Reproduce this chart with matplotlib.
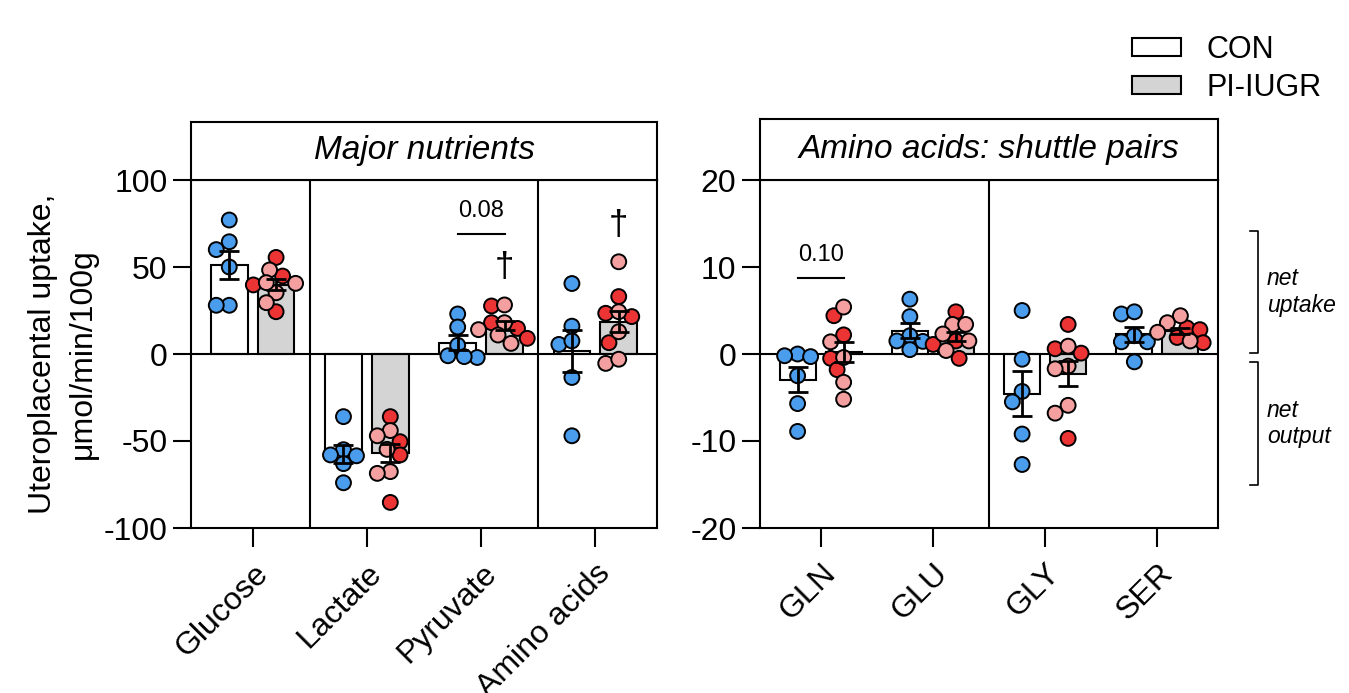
import numpy as np
import matplotlib
matplotlib.use('Agg')
import matplotlib.pyplot as plt
from matplotlib.patches import Patch
from matplotlib import transforms

plt.rcParams['font.family'] = ['Liberation Sans', 'DejaVu Sans']
plt.rcParams['axes.unicode_minus'] = False

BLUE = '#4a9cec'
RED = '#ec3434'
PINK = '#f5a0a0'
GREY = '#d4d4d4'

# ---- data ----
major_labels = ['Glucose', 'Lactate', 'Pyruvate', 'Amino acids']
major_con = [
    [77, 64.5, 60, 50, 28, 28],
    [-36, -55, -58, -58.5, -63, -74],
    [23, 15.5, 5, -2, -1.5, -1],
    [40.5, 16, 5.5, 7.5, -13.5, -47],
]
major_pi_red = [
    [55.5, 44.8, 39.7, 24.3],
    [-36, -50.4, -58, -85.3],
    [27.6, 18, 14.7, 9],
    [33, 23.4, 21.5, 6.5],
]
major_pi_pink = [
    [48.3, 40.6, 35.2, 29.5, 41],
    [-44, -47, -54.8, -67.6, -68.6],
    [28.2, 18, 10.9, 6.1, 14],
    [53, 24.3, 12.8, -5.4, -3],
]

shuttle_labels = ['GLN', 'GLU', 'GLY', 'SER']
shuttle_con = [
    [0, -0.3, -0.2, -2.5, -5.7, -8.9],
    [6.3, 4.3, 2.1, 1.5, 1.45, 0.5],
    [5.0, -0.6, -4.3, -5.5, -9.2, -12.7],
    [4.6, 4.85, 2.1, 1.4, 1.4, -0.9],
]
shuttle_pi_red = [
    [4.4, 2.2, -0.5, -1.8],
    [4.85, 1.5, 1.1, -0.5],
    [3.4, 0.1, 0.6, -9.7],
    [3.0, 2.8, 1.9, 1.3],
]
shuttle_pi_pink = [
    [5.4, 1.4, -0.4, -3.25, -5.2],
    [3.4, 3.4, 2.3, 1.5, 0.4],
    [0.9, -1.4, -1.7, -5.9, -6.8],
    [4.4, 3.6, 2.5, 1.5],
]

OFF = 0.205
W = 0.32


def swarm(ax, vals, center, d=13.0):
    bbox = ax.get_window_extent()
    x0, x1 = ax.get_xlim()
    y0, y1 = ax.get_ylim()
    sx = bbox.width / (x1 - x0)
    sy = bbox.height / (y1 - y0)
    steps = [0]
    for k in range(1, 20):
        steps += [-k * d * 0.25, k * d * 0.25]
    placed = []
    xs = np.zeros(len(vals))
    for i in np.argsort(-np.asarray(vals)):
        y = vals[i] * sy
        for off in steps:
            if all((off - px) ** 2 + (y - py) ** 2 >= d * d for px, py in placed):
                break
        placed.append((off, y))
        xs[i] = center + off / sx
    return xs


def draw_panel(ax, tax, title, labels, con, pi_red, pi_pink, ylim, ticks, dividers):
    ax.set_xlim(-0.54, 3.54)
    ax.set_ylim(*ylim)
    for i in range(len(labels)):
        c = np.array(con[i], dtype=float)
        p = np.array(pi_red[i] + pi_pink[i], dtype=float)
        pcol = [RED] * len(pi_red[i]) + [PINK] * len(pi_pink[i])
        for vals, off, face, cols in [(c, -OFF, 'white', [BLUE] * len(c)),
                                      (p, OFF, GREY, pcol)]:
            m = vals.mean()
            se = vals.std(ddof=1) / np.sqrt(len(vals))
            ax.bar(i + off, m, width=W, color=face, edgecolor='black',
                   linewidth=1.5, zorder=1)
            xs = swarm(ax, vals, i + off)
            ax.scatter(xs, vals, s=115, c=cols, edgecolors='black',
                       linewidths=1.4, zorder=3)
            ax.errorbar(i + off, m, yerr=se, fmt='none', ecolor='black',
                        elinewidth=2, capsize=7, capthick=2, zorder=4)
    ax.axhline(0, color='black', lw=1.5, zorder=2)
    for dv in dividers:
        ax.axvline(dv, color='black', lw=1.5, zorder=2)
    ax.set_xticks(range(len(labels)))
    ax.set_xticklabels(labels, rotation=45, ha='right', rotation_mode='anchor',
                       fontsize=23)
    ax.set_yticks(ticks)
    ax.tick_params(axis='x', length=14, width=1.5, pad=8)
    ax.tick_params(axis='y', length=13, width=1.5, labelsize=23, pad=4)
    for s in ax.spines.values():
        s.set_linewidth(1.5)

    tax.set_xticks([])
    tax.set_yticks([])
    for s in tax.spines.values():
        s.set_linewidth(1.5)
    tax.text(0.5, 0.5, title, ha='center', va='center', style='italic',
             fontsize=24, transform=tax.transAxes)


fig = plt.figure(figsize=(13.49, 6.93), dpi=100)
FW, FH = 1349, 693

ax1 = fig.add_axes([191 / FW, 165 / FH, 466 / FW, 348 / FH])
tax1 = fig.add_axes([191 / FW, 513 / FH, 466 / FW, 58 / FH])
ax2 = fig.add_axes([760 / FW, 165 / FH, 458 / FW, 348 / FH])
tax2 = fig.add_axes([760 / FW, 513 / FH, 458 / FW, 61 / FH])

draw_panel(ax1, tax1, 'Major nutrients', major_labels, major_con, major_pi_red,
           major_pi_pink, (-100, 100), [-100, -50, 0, 50, 100], [0.5, 2.5])
draw_panel(ax2, tax2, 'Amino acids: shuttle pairs', shuttle_labels, shuttle_con,
           shuttle_pi_red, shuttle_pi_pink, (-20, 20), [-20, -10, 0, 10, 20], [1.5])

ax1.set_ylabel('Uteroplacental uptake,\nμmol/min/100g', fontsize=23,
               linespacing=1.45, labelpad=4)

# significance marks
ax1.plot([2 - OFF, 2 + OFF], [69, 69], color='black', lw=1.5)
ax1.text(2, 76, '0.08', ha='center', va='bottom', fontsize=17)
ax1.text(2 + OFF, 50, '\u2020', ha='center', va='center', fontsize=25)
ax1.text(3 + OFF, 74, '\u2020', ha='center', va='center', fontsize=25)
ax2.plot([-OFF, OFF], [8.7, 8.7], color='black', lw=1.5)
ax2.text(0, 10.1, '0.10', ha='center', va='bottom', fontsize=17)

# net uptake / net output brackets
tr = transforms.blended_transform_factory(ax2.transAxes, ax2.transData)
for top, bot, txt in [(14.1, 0.1, 'net\nuptake'), (-0.9, -15.1, 'net\noutput')]:
    ax2.plot([1.069, 1.087, 1.087, 1.069], [top, top, bot, bot], color='black',
             lw=1.2, transform=tr, clip_on=False)
    ax2.text(1.107, (top + bot) / 2, txt, ha='left', va='center', style='italic',
             fontsize=16.5, transform=tr)

handles = [Patch(facecolor='white', edgecolor='black', linewidth=1.5),
           Patch(facecolor=GREY, edgecolor='black', linewidth=1.5)]
fig.legend(handles, ['CON', 'PI-IUGR'], loc='upper left',
           bbox_to_anchor=(1132 / FW, 1 - 35 / FH), frameon=False, fontsize=22,
           handlelength=1.6, handleheight=0.55, handletextpad=0.85,
           labelspacing=0.25, borderpad=0, borderaxespad=0)

fig.savefig('out.png', dpi=100)
